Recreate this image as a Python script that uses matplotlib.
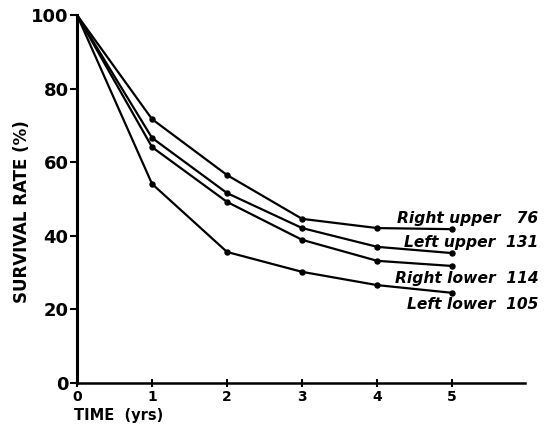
import numpy as np
import matplotlib
matplotlib.use("Agg")
import matplotlib.pyplot as plt

# datos
anios = [0, 1, 2, 3, 4, 5]
derecho_sup = [100, 71.7, 56.5, 44.6, 42.1, 41.8]
izquierdo_sup = [100, 66.6, 51.6, 42.1, 37.0, 35.3]
derecho_inf = [100, 64.1, 49.2, 38.9, 33.2, 31.8]
izquierdo_inf = [100, 54.1, 35.6, 30.2, 26.6, 24.5]

etiquetas = ["Right upper   76", "Left upper  131", "Right lower  114", "Left lower  105"]
y_etiquetas = [44.8, 38.3, 28.5, 21.2]

fig = plt.figure(figsize=(5.45, 4.28), dpi=100)
ax = fig.add_axes([77 / 545, 1 - 383 / 428, 448 / 545, 368 / 428])

for serie in [derecho_sup, izquierdo_sup, derecho_inf, izquierdo_inf]:
    ax.plot(anios, serie, color='black', linewidth=1.6, marker='o', markersize=3.6,
            markevery=slice(1, None))

for texto, yy in zip(etiquetas, y_etiquetas):
    ax.text(6.15, yy, texto, ha='right', va='center', fontsize=11.2,
            fontweight='bold', fontstyle='italic', clip_on=False)

ax.set_xlim(0, 5.97)
ax.set_ylim(0, 100)
ax.spines['top'].set_visible(False)
ax.spines['right'].set_visible(False)
ax.spines['left'].set_linewidth(2.2)
ax.spines['bottom'].set_linewidth(1.8)

ax.set_yticks([0, 20, 40, 60, 80, 100])
ax.set_yticklabels(['0', '20', '40', '60', '80', '100'], fontsize=13, fontweight='bold')
ax.set_xticks(anios)
ax.set_xticklabels(['0', '1', '2', '3', '4', '5'], fontsize=10, fontweight='bold')
ax.tick_params(axis='y', direction='out', length=5, width=1.5, pad=1)
ax.tick_params(axis='x', direction='inout', length=6, width=1.5, pad=2)

fig.text(0.040, 0.505, 'SURVIVAL RATE (%)', rotation=90, ha='center', va='center',
         fontsize=12, fontweight='bold')
fig.text(0.135, 0.03, 'TIME  (yrs)', ha='left', va='center', fontsize=10.5, fontweight='bold')

fig.savefig('out.png', dpi=100)
